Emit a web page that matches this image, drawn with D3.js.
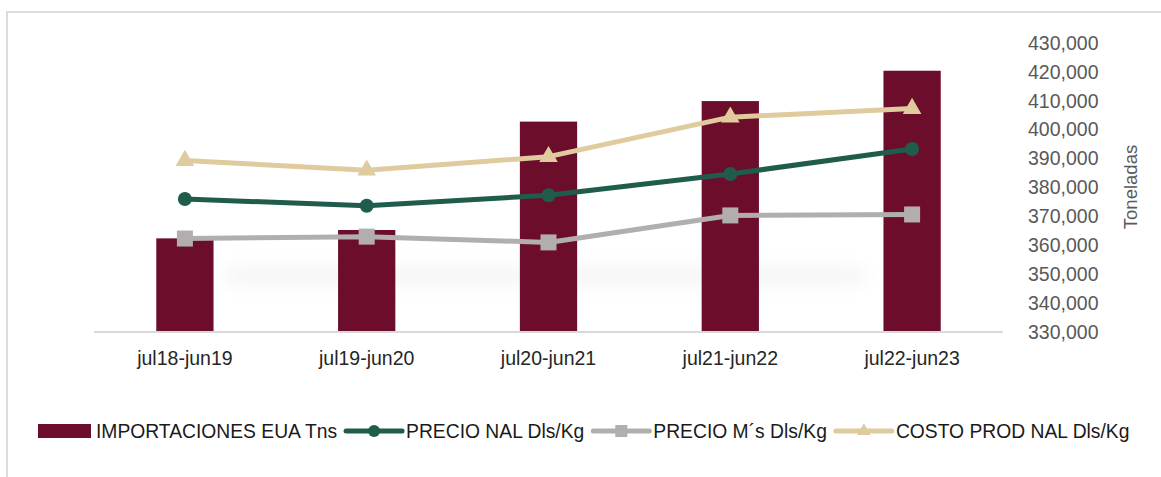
<!DOCTYPE html>
<html>
<head>
<meta charset="utf-8">
<script src="https://cdn.jsdelivr.net/npm/d3@7"></script>
<style>
  html, body { margin: 0; padding: 0; background: #ffffff; }
  svg { display: block; font-family: "Liberation Sans", Arial, sans-serif; }
</style>
</head>
<body>
<svg id="chart" width="1161" height="477"></svg>
<script>
// ---- data ----
const categories = ["jul18-jun19", "jul19-jun20", "jul20-jun21", "jul21-jun22", "jul22-jun23"];
const importaciones = [362400, 365300, 402800, 409900, 420400];   // Toneladas (right axis)
const precioNal = [1.38, 1.31, 1.42, 1.64, 1.90];                   // Dls/Kg (hidden axis)
const precioMs = [0.97, 0.99, 0.93, 1.21, 1.22];                    // Dls/Kg (hidden axis)
const costoProd = [1.78, 1.68, 1.82, 2.23, 2.32];                   // Dls/Kg (hidden axis)
const yTicks = [330000, 340000, 350000, 360000, 370000, 380000, 390000, 400000, 410000, 420000, 430000];
const seriesNames = ["IMPORTACIONES EUA Tns", "PRECIO NAL Dls/Kg", "PRECIO M\u00B4s Dls/Kg", "COSTO PROD NAL Dls/Kg"];
const axisTitle = "Toneladas";

const colBar = "#6c0d2b", colNal = "#1f5c4c", colMs = "#b2aeae", colCosto = "#e0cb9f";

const svg = d3.select("#chart");

// frame
svg.append("rect").attr("x", 7).attr("y", 12).attr("width", 1200).attr("height", 520)
  .attr("fill", "none").attr("stroke", "#dcdcdc").attr("stroke-width", 2);

// scales
const x = d3.scaleBand().domain(categories).range([94, 1003]).padding(0);
const y = d3.scaleLinear().domain([330000, 430000]).range([332, 43]);
const y2 = d3.scaleLinear().domain([0, 3]).range([332, 43]);
const barW = x.bandwidth() * 0.315;
const cx = d => x(d) + x.bandwidth() / 2;

// faint shadow band
const defs = svg.append("defs");
const f = defs.append("filter").attr("id", "blur").attr("x", "-20%").attr("y", "-100%").attr("width", "140%").attr("height", "300%");
f.append("feGaussianBlur").attr("stdDeviation", 8);
svg.append("rect").attr("x", 225).attr("y", 266).attr("width", 640).attr("height", 20)
  .attr("fill", "#e6e6e6").attr("opacity", 0.35).attr("filter", "url(#blur)");

// bars
svg.append("g").selectAll("rect").data(importaciones).join("rect")
  .attr("x", (d, i) => cx(categories[i]) - barW / 2)
  .attr("width", barW)
  .attr("y", d => y(d))
  .attr("height", d => y(330000) - y(d))
  .attr("fill", colBar);

// baseline
svg.append("line").attr("x1", 94).attr("x2", 1003).attr("y1", 332).attr("y2", 332)
  .attr("stroke", "#d9d9d9").attr("stroke-width", 2);

// lines
const line = d3.line().x((d, i) => cx(categories[i])).y(d => y2(d));
function drawSeries(vals, color, marker) {
  svg.append("path").datum(vals).attr("d", line).attr("fill", "none")
    .attr("stroke", color).attr("stroke-width", 5).attr("stroke-linejoin", "round").attr("stroke-linecap", "round");
  const g = svg.append("g");
  vals.forEach((v, i) => {
    const px = cx(categories[i]), py = y2(v);
    if (marker === "circle") g.append("circle").attr("cx", px).attr("cy", py).attr("r", 7).attr("fill", color);
    if (marker === "square") g.append("rect").attr("x", px - 8).attr("y", py - 8).attr("width", 16).attr("height", 16).attr("fill", color);
    if (marker === "triangle") g.append("path").attr("d", d3.symbol().type(d3.symbolTriangle).size(150)()).attr("transform", `translate(${px},${py})`).attr("fill", color);
  });
}
drawSeries(precioMs, colMs, "square");
drawSeries(precioNal, colNal, "circle");
drawSeries(costoProd, colCosto, "triangle");

// right axis labels
const ax = svg.append("g").attr("transform", "translate(1028,0)")
  .call(d3.axisRight(y).tickValues(yTicks).tickFormat(d3.format(",")).tickSize(0).tickPadding(0));
ax.select(".domain").remove();
ax.selectAll("text").attr("fill", "#595959").style("font-size", "19.5px").style("font-family", "Liberation Sans, Arial, sans-serif").attr("text-anchor", "start");

svg.append("text").attr("transform", "translate(1137,187) rotate(-90)")
  .attr("text-anchor", "middle").attr("fill", "#595959").style("font-size", "18.5px").text(axisTitle);

// x axis labels
const xa = svg.append("g").attr("transform", "translate(0,358)")
  .call(d3.axisBottom(x).tickSize(0).tickPadding(0));
xa.select(".domain").remove();
xa.selectAll("text").attr("fill", "#262626").style("font-size", "19.5px").style("font-family", "Liberation Sans, Arial, sans-serif").attr("dy", "0.35em");

// legend
const lg = svg.append("g").attr("transform", "translate(0,431)");
let lx = 38;
seriesNames.forEach((name, i) => {
  if (i === 0) {
    lg.append("rect").attr("x", lx).attr("y", -7).attr("width", 53).attr("height", 14).attr("fill", colBar);
    lx += 58;
  } else {
    const color = [null, colNal, colMs, colCosto][i];
    lg.append("line").attr("x1", lx).attr("x2", lx + 56).attr("y1", 0).attr("y2", 0)
      .attr("stroke", color).attr("stroke-width", 5).attr("stroke-linecap", "round");
    const mx = lx + 28;
    if (i === 1) lg.append("circle").attr("cx", mx).attr("cy", 0).attr("r", 6).attr("fill", color);
    if (i === 2) lg.append("rect").attr("x", mx - 6).attr("y", -6).attr("width", 12).attr("height", 12).attr("fill", color);
    if (i === 3) lg.append("path").attr("d", d3.symbol().type(d3.symbolTriangle).size(80)()).attr("transform", `translate(${mx},0)`).attr("fill", color);
    lx += 60;
  }
  const t = lg.append("text").attr("x", lx).attr("y", 0).attr("dy", "0.35em")
    .attr("fill", "#1a1a1a").style("font-size", "19.3px").text(name);
  lx += t.node().getComputedTextLength() + 9;
});
</script>
</body>
</html>
